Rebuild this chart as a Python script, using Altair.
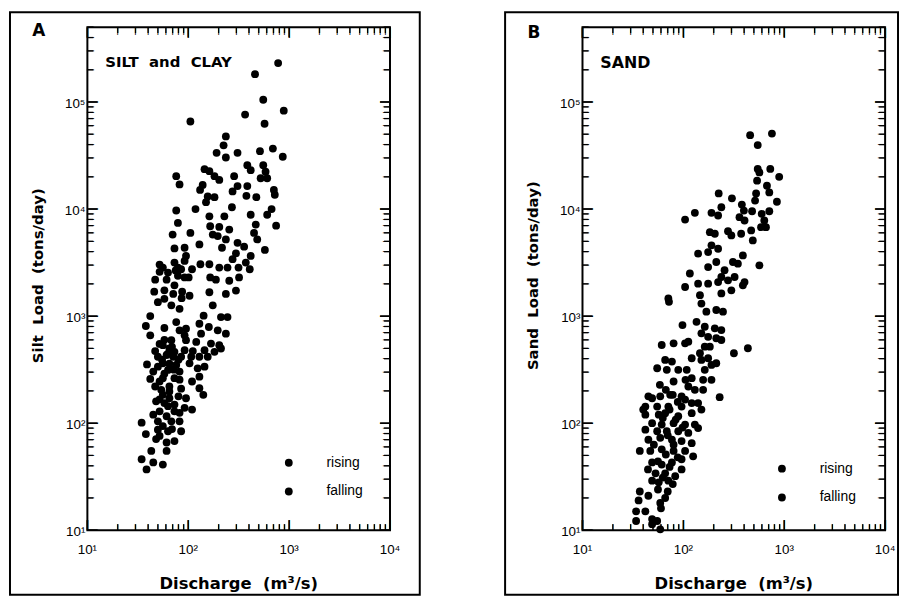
import altair as alt
import pandas as pd

# ---------------- data ----------------
silt_q = [
    778, 459, 554, 885, 105, 366, 571, 236, 224, 191,
    236, 308, 514, 690, 865, 76, 82, 145, 162, 182,
    203, 285, 385, 416, 554, 584, 522, 606, 139, 131,
    308, 385, 275, 156, 182, 377, 473, 706, 721, 76,
    118, 150, 271, 416, 670, 606, 79, 162, 228, 165,
    203, 255, 467, 743, 70, 105, 175, 196, 236, 449,
    483, 129, 73, 92, 216, 308, 358, 575, 297, 95,
    416, 275, 372, 73, 92, 132, 162, 203, 245, 56,
    52, 79, 85, 109, 315, 407, 101, 79, 47, 61,
    165, 188, 255, 319, 46, 71, 87, 162, 236, 297,
    58, 103, 42, 68, 82, 142, 211, 245, 175, 38,
    58, 76, 95, 129, 160, 196, 42, 82, 92, 134,
    236, 68, 95, 120, 168, 203, 56, 65, 47, 92,
    111, 145, 182, 211, 50, 61, 71, 85, 107, 129,
    156, 56, 76, 103, 39, 63, 82, 45, 124, 145,
    42, 56, 73, 109, 129, 47, 54, 65, 85, 129,
    56, 65, 95, 141, 48, 58, 73, 92, 109, 52,
    45, 61, 82, 34.5, 50, 68, 82, 38, 50, 63,
    85, 48, 61, 43, 61, 34.5, 45, 56, 38.6, 52,
    58, 69, 63, 73, 55, 80, 65, 50, 72, 58,
    82, 52, 65, 80, 52, 63, 73, 56, 69, 52,
    73, 52, 63, 75, 92, 73, 58, 86, 50,
]
silt_load = [
    231000, 182000, 105000, 83000, 65700, 76300, 62600, 47700, 39400, 33500,
    30300, 33500, 34700, 36700, 30800, 20300, 17000, 23600, 22600, 20300,
    18700, 20300, 25700, 23100, 25700, 22300, 19400, 19400, 16800, 15100,
    16400, 16400, 14600, 13100, 12900, 13300, 12900, 15100, 13600, 9700,
    10000, 11600, 10400, 8850, 10000, 8850, 7420, 8560, 8560, 6910,
    6810, 6430, 7160, 7000, 5780, 5990, 5780, 5590, 5200, 5990,
    5200, 4670, 4290, 4350, 4350, 4840, 4450, 4150, 3860, 3650,
    3650, 3400, 3160, 3160, 3280, 3050, 3050, 2840, 2840, 2840,
    2590, 2840, 2740, 2740, 2840, 2740, 2300, 2380, 2190, 2190,
    2300, 2190, 2140, 2300, 1690, 1610, 1690, 1670, 1610, 1730,
    1450, 1550, 1000, 1260, 1170, 1010, 979, 979, 1260, 808,
    774, 880, 763, 849, 791, 737, 662, 737, 662, 686,
    686, 596, 596, 574, 554, 535, 535, 498, 471, 481,
    471, 481, 464, 498, 417, 433, 417, 417, 417, 417,
    417, 362, 350, 362, 354, 314, 303, 303, 325, 337,
    259, 263, 263, 245, 272, 220, 205, 220, 210, 212,
    184, 171, 171, 184, 160, 154, 149, 139, 134, 129,
    120, 116, 125, 101, 104, 104, 104, 79, 87, 84,
    84, 71, 66, 55, 55, 46, 43, 41, 37, 550,
    600, 516, 445, 464, 391, 391, 359, 337, 316, 290,
    255, 245, 198, 178, 167, 144, 129, 94, 88, 76,
    68, 3030, 2550, 2670, 2300, 1940, 1740, 1470, 1350,
]

sand_q = [
    459, 755, 546, 546, 567, 727, 891, 538, 674, 711,
    526, 514, 846, 224, 303, 380, 398, 360, 480, 598,
    711, 634, 589, 659, 104, 130, 190, 221, 238, 183,
    205, 277, 299, 374, 470, 488, 404, 140, 190, 221,
    176, 212, 176, 116, 140, 176, 221, 277, 310, 347,
    389, 567, 256, 238, 322, 404, 104, 146, 238, 299,
    389, 71, 72, 151, 169, 212, 247, 135, 98, 163,
    205, 238, 151, 176, 212, 238, 61, 80, 104, 112,
    163, 183, 317, 436, 121, 146, 151, 176, 55, 66,
    77, 68.5, 89, 108, 190, 212, 163, 121, 157, 190,
    80, 112, 130, 157, 229, 45, 49, 59, 74, 96,
    104, 42, 55, 71, 96, 121, 140, 151, 40, 42,
    57, 66, 89, 121, 49, 61, 80, 104, 130, 140,
    42, 55, 68.5, 89, 112, 45, 59, 77, 96, 121,
    37, 47, 61, 80, 104, 125, 49, 61, 77, 96,
    53, 66, 83, 49, 57, 71, 37, 45, 66, 36,
    59, 34, 42, 60, 49, 55, 34, 59, 49, 67,
    78.5, 88, 73, 62.5, 84, 98, 70, 80, 67, 88,
    56, 73, 96, 62.5, 78.5, 56, 70, 105, 58.5, 51,
    44.6,
]
sand_load = [
    49000, 50700, 39600, 23700, 22000, 23700, 20000, 18400, 16500, 14300,
    14000, 12000, 11700, 14000, 12600, 11000, 9680, 8390, 9540, 9020,
    9540, 7820, 6770, 6770, 7980, 9220, 9220, 8700, 10400, 6080,
    5880, 6210, 5670, 5880, 6310, 5090, 7820, 3830, 4580, 4260,
    3960, 3200, 2870, 2500, 2010, 2010, 2080, 2160, 3200, 3090,
    3690, 2980, 2680, 2320, 2320, 2080, 1870, 1570, 1630, 1740,
    1940, 1460, 1360, 1310, 1100, 1140, 1100, 885, 825, 795,
    769, 741, 690, 641, 621, 598, 537, 557, 557, 577,
    518, 518, 450, 501, 404, 450, 390, 404, 326, 390,
    376, 315, 315, 315, 350, 363, 315, 263, 254, 254,
    245, 220, 205, 205, 175, 178, 171, 178, 184, 178,
    166, 143, 143, 143, 143, 154, 154, 134, 134, 120,
    120, 124, 116, 124, 100, 97, 100, 97, 97, 90,
    87, 84, 84, 84, 81, 70, 73, 70, 68, 65,
    55, 55, 57, 55, 55, 49, 43, 41, 43, 46,
    34, 34, 32, 29, 28, 29, 23, 21, 20, 19,
    18, 15, 15, 16, 12.7, 12.2, 12.2, 10.2, 11.4, 205,
    184, 158, 134, 112, 108, 91, 77, 63, 51, 48,
    44, 39, 37, 31, 27, 24, 23, 254, 228, 63,
    37,
]

legend_labels = ["rising", "falling"]
x_decades = [10, 100, 1000, 10000]
x_tick_labels = ["10¹", "10²", "10³", "10⁴"]
y_decades = [10, 100, 1000, 10000, 100000]
y_tick_labels = ["10¹", "10²", "10³", "10⁴", "10⁵"]
minor_mults = [2, 3, 4, 5, 6, 7, 8, 9]
x_max = 10000
y_max = 500000
x_title = "Discharge\u00a0\u00a0(m³/s)"

# ---------------- styling ----------------
FONT = "Liberation Sans"
BFONT = "DejaVu Sans"
W, H = 305, 507
MAJOR, MINOR = 10, 6

X_AXIS = alt.Axis(values=x_decades, domain=False, ticks=False, grid=False,
                  labels=False, title=None)
Y_AXIS = alt.Axis(values=y_decades, domain=False, ticks=False, grid=False,
                  labels=False, title=None)


def xscale():
    return alt.Scale(type="log", domain=[10, x_max], nice=False)


def yscale():
    return alt.Scale(type="log", domain=[10, y_max], nice=False)


def X(field):
    return alt.X(field, scale=xscale(), axis=None)


def Y(field):
    return alt.Y(field, scale=yscale(), axis=None)


x_minor = [m * d for d in x_decades for m in minor_mults if m * d < x_max]
y_minor = [m * d for d in y_decades for m in minor_mults if m * d <= y_max]


def tick_layer(vals, channel, side, length):
    df = pd.DataFrame({"v": vals})
    base = alt.Chart(df).mark_rule(color="black", strokeWidth=1.3)
    if channel == "x":
        enc = dict(x=X("v:Q"))
        if side == "bottom":
            enc.update(y=alt.value(H), y2=alt.value(H - length))
        else:
            enc.update(y=alt.value(0), y2=alt.value(length))
    else:
        enc = dict(y=Y("v:Q"))
        if side == "left":
            enc.update(x=alt.value(0), x2=alt.value(length))
        else:
            enc.update(x=alt.value(W), x2=alt.value(W - length))
    return base.encode(**enc)


def tick_glyph_layer(vals, channel, side, length):
    # inward tick drawn as a bar glyph centred half a tick length inside the frame
    df = pd.DataFrame({"tv": vals})
    fs = length / 0.94
    half = length / 2.0 + 0.5
    if channel == "x":
        base = alt.Chart(df).mark_text(
            font=FONT, fontSize=fs, fontWeight="bold", align="center",
            baseline="middle", color="black",
        )
        yv = H - half if side == "bottom" else half
        return base.encode(x=X("tv:Q"), y=alt.value(yv), text=alt.value("|"))
    base = alt.Chart(df).mark_text(
        font=FONT, fontSize=fs, fontWeight="bold", align="center",
        baseline="middle", color="black", angle=90,
    )
    xv = half if side == "left" else W - half
    return base.encode(x=alt.value(xv), y=Y("tv:Q"), text=alt.value("|"))


def panel(q, load, ytitle, letter, name, name_size, name_y, letter_y,
          leg_x, leg_y, frame_right):
    one = alt.Data(values=[{"k": 1}])
    df = pd.DataFrame({"q": q, "load": load})
    pts = alt.Chart(df).mark_circle(size=62, color="black", opacity=1).encode(
        x=alt.X("q:Q", scale=xscale(), axis=X_AXIS),
        y=alt.Y("load:Q", scale=yscale(), axis=Y_AXIS),
    )
    frame = alt.Chart(one).mark_rect(
        fillOpacity=0, stroke="black", strokeWidth=2
    ).encode(
        x=alt.value(-78), x2=alt.value(W + frame_right),
        y=alt.value(-15), y2=alt.value(H + 65),
    )
    specs = [
        (x_decades, "x", "bottom", MAJOR),
        (x_decades, "x", "top", MAJOR),
        (x_minor, "x", "bottom", MINOR),
        (x_minor, "x", "top", MINOR),
        (y_decades, "y", "left", MAJOR),
        (y_decades, "y", "right", MAJOR),
        (y_minor, "y", "left", MINOR),
        (y_minor, "y", "right", MINOR),
    ]
    ticks = [tick_layer(*s) for s in specs]
    glyph_ticks = [tick_glyph_layer(*s) for s in specs]
    xl_df = pd.DataFrame({"xv": x_decades, "label": x_tick_labels})
    x_labels = alt.Chart(xl_df).mark_text(
        font=FONT, fontSize=13.5, align="center", baseline="alphabetic",
        color="black",
    ).encode(x=X("xv:Q"), y=alt.value(H + 24), text="label:N")
    yl_df = pd.DataFrame({"yv": y_decades, "label": y_tick_labels})
    y_labels = alt.Chart(yl_df).mark_text(
        font=FONT, fontSize=13.5, align="right", baseline="middle",
        color="black", dy=2,
    ).encode(x=alt.value(-2), y=Y("yv:Q"), text="label:N")
    x_ttl = alt.Chart(one).mark_text(
        font=BFONT, fontSize=16.5, fontWeight="bold", align="center",
        baseline="middle", color="black",
    ).encode(x=alt.value(W / 2), y=alt.value(H + 54), text=alt.value(x_title))
    y_ttl = alt.Chart(one).mark_text(
        font=BFONT, fontSize=15, fontWeight="bold", align="center",
        baseline="middle", color="black", angle=270,
    ).encode(x=alt.value(-50), y=alt.value(H / 2 - 3), text=alt.value(ytitle))
    letter_txt = alt.Chart(one).mark_text(
        font=BFONT, fontSize=17, fontWeight="bold", align="center",
        baseline="middle", color="black",
    ).encode(x=alt.value(-49), y=alt.value(letter_y), text=alt.value(letter))
    name_txt = alt.Chart(one).mark_text(
        font=BFONT, fontSize=name_size, fontWeight="bold", align="left",
        baseline="middle", color="black",
    ).encode(x=alt.value(18), y=alt.value(name_y), text=alt.value(name))
    leg_df = pd.DataFrame({"stage": legend_labels})
    leg = alt.Chart(leg_df).transform_filter("false").mark_circle(
        size=62, opacity=1
    ).encode(
        color=alt.Color(
            "stage:N", sort=legend_labels,
            scale=alt.Scale(domain=legend_labels, range=["black", "black"]),
            legend=alt.Legend(
                title=None, orient="none", legendX=leg_x, legendY=leg_y,
                padding=0, symbolType="circle", symbolSize=62,
                symbolFillColor="black", symbolStrokeColor="black",
                symbolOpacity=1, symbolStrokeWidth=0,
                labelFont=FONT, labelFontSize=14, labelColor="black",
                labelOffset=31, rowPadding=15,
            ),
        )
    )
    return alt.layer(
        pts, frame, *ticks, *glyph_ticks, x_labels, y_labels, x_ttl, y_ttl,
        letter_txt, name_txt, leg,
    ).properties(width=W, height=H)


panel_a = panel(silt_q, silt_load, "Silt\u00a0\u00a0Load\u00a0\u00a0(tons/day)", "A",
                "SILT\u00a0\u00a0and\u00a0\u00a0CLAY", 15, 35, 4, 196, 432, 30)
panel_b = panel(sand_q, sand_load, "Sand\u00a0\u00a0Load\u00a0\u00a0(tons/day)", "B",
                "SAND", 16, 36, 6, 194, 438, 13)

chart = alt.hconcat(panel_a, panel_b, spacing=82).resolve_scale(
    color="independent"
).properties(padding=0, background="white").configure_view(
    stroke="black", strokeWidth=2
)

chart.save("out.html", embed_options={"renderer": "svg", "actions": False})
